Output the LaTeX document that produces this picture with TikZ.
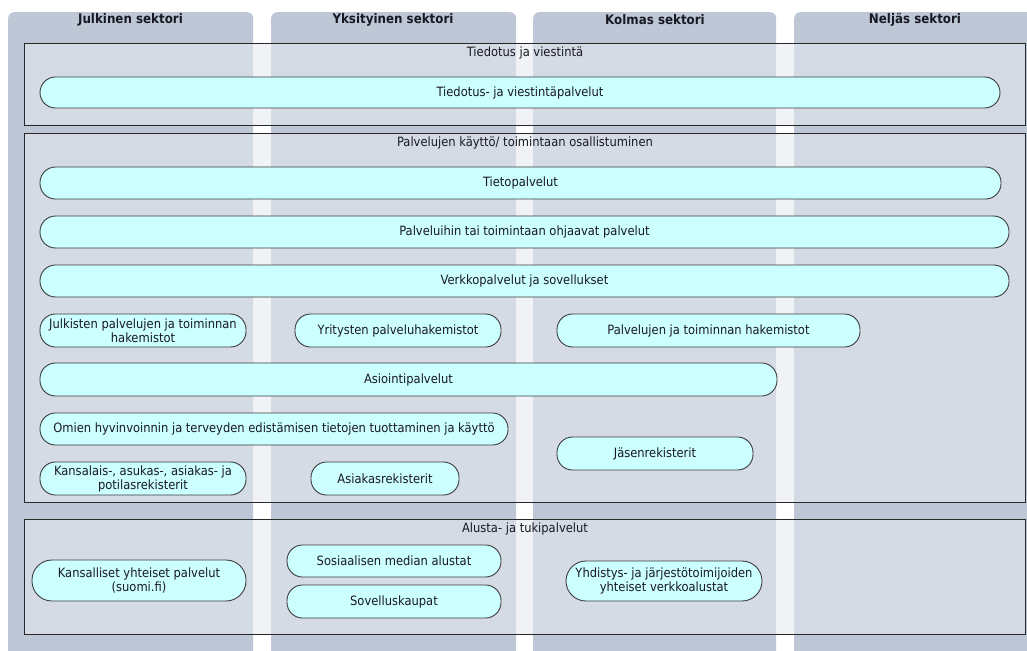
\documentclass[tikz,border=0pt]{standalone}
\usepackage{fontspec}
\setmainfont{DejaVu Sans Condensed}
\begin{document}
\begin{tikzpicture}[x=1pt,y=-1pt,
  colbox/.style={fill=colc, rounded corners=6, anchor=north west, minimum width=245, minimum height=660, inner sep=0},
  head/.style={font=\fontsize{13.2}{15}\selectfont\bfseries, text=txt, inner sep=0},
  secbox/.style={draw=secline, line width=0.9, fill=secfill, fill opacity=0.6, anchor=north west, minimum width=1001, inner sep=0},
  sectitle/.style={font=\fontsize{12.8}{15}\selectfont, text=txt, inner sep=0},
  pill/.style={draw=pilline, line width=0.9, left color=pillc, middle color=pillm, right color=pillc,
     rounded corners=15.5, inner sep=0, align=center, text=txt,
     font=\fontsize{12.8}{14}\selectfont},
  pilltall/.style={pill, rounded corners=20}
]
\definecolor{colc}{RGB}{189,199,214}
\definecolor{secfill}{RGB}{230,233,238}
\definecolor{secline}{RGB}{40,40,40}
\definecolor{pilline}{RGB}{60,60,60}
\definecolor{pillc}{RGB}{204,255,255}
\definecolor{pillm}{RGB}{236,255,255}
\definecolor{txt}{RGB}{25,25,35}
\useasboundingbox (0,0) rectangle (1027,650);
\begin{scope}
\clip (0,0) rectangle (1027,650);
\node[colbox] (c1) at (8,12) {};
\node[colbox] (c2) at (271,12) {};
\node[colbox, minimum width=243] (c3) at (533,12) {};
\node[colbox, minimum width=243] (c4) at (794,12) {};
\end{scope}
\node[head] (h1) at (130.5,20) {Julkinen sektori};
\node[head] (h2) at (393,20) {Yksityinen sektori};
\node[head] (h3) at (655,20) {Kolmas sektori};
\node[head] (h4) at (915,20) {Neljäs sektori};

\node[secbox, minimum height=82] (s1) at (24,43) {};
\node[secbox, minimum height=369] (s2) at (24,133) {};
\node[secbox, minimum height=115] (s3) at (24,519) {};
\node[sectitle] (t1) at (525,53) {Tiedotus ja viestintä};
\node[sectitle] (t2) at (525,143) {Palvelujen käyttö/ toimintaan osallistuminen};
\node[sectitle] (t3) at (525,529) {Alusta- ja tukipalvelut};

\node[pill, minimum width=960, minimum height=31] (p1) at (520,92.5) {Tiedotus- ja viestintäpalvelut};
\node[pill, minimum width=961, minimum height=32] (p2) at (520.5,183) {Tietopalvelut};
\node[pill, minimum width=969, minimum height=32] (p3) at (524.5,232) {Palveluihin tai toimintaan ohjaavat palvelut};
\node[pill, minimum width=969, minimum height=32] (p4) at (524.5,281) {Verkkopalvelut ja sovellukset};
\node[pill, minimum width=206, minimum height=33] (p5) at (143,330.5) {Julkisten palvelujen ja toiminnan\\hakemistot};
\node[pill, minimum width=206, minimum height=33] (p6) at (398,330.5) {Yritysten palveluhakemistot};
\node[pill, minimum width=303, minimum height=33] (p7) at (708.5,330.5) {Palvelujen ja toiminnan hakemistot};
\node[pill, minimum width=737, minimum height=33] (p8) at (408.5,379.5) {Asiointipalvelut};
\node[pill, minimum width=468, minimum height=32] (p9) at (274,429) {Omien hyvinvoinnin ja terveyden edistämisen tietojen tuottaminen ja käyttö};
\node[pill, minimum width=206, minimum height=33] (p10) at (143,478.5) {Kansalais-, asukas-, asiakas- ja\\potilasrekisterit};
\node[pill, minimum width=148, minimum height=33] (p11) at (385,478.5) {Asiakasrekisterit};
\node[pill, minimum width=196, minimum height=33] (p12) at (655,453.5) {Jäsenrekisterit};
\node[pilltall, minimum width=214, minimum height=41] (p13) at (139,580.5) {Kansalliset yhteiset palvelut\\(suomi.fi)};
\node[pill, minimum width=214, minimum height=32] (p14) at (394,561) {Sosiaalisen median alustat};
\node[pill, minimum width=214, minimum height=33] (p15) at (394,601.5) {Sovelluskaupat};
\node[pilltall, minimum width=196, minimum height=40] (p16) at (664,581) {Yhdistys- ja järjestötoimijoiden\\yhteiset verkkoalustat};
\end{tikzpicture}
\end{document}
